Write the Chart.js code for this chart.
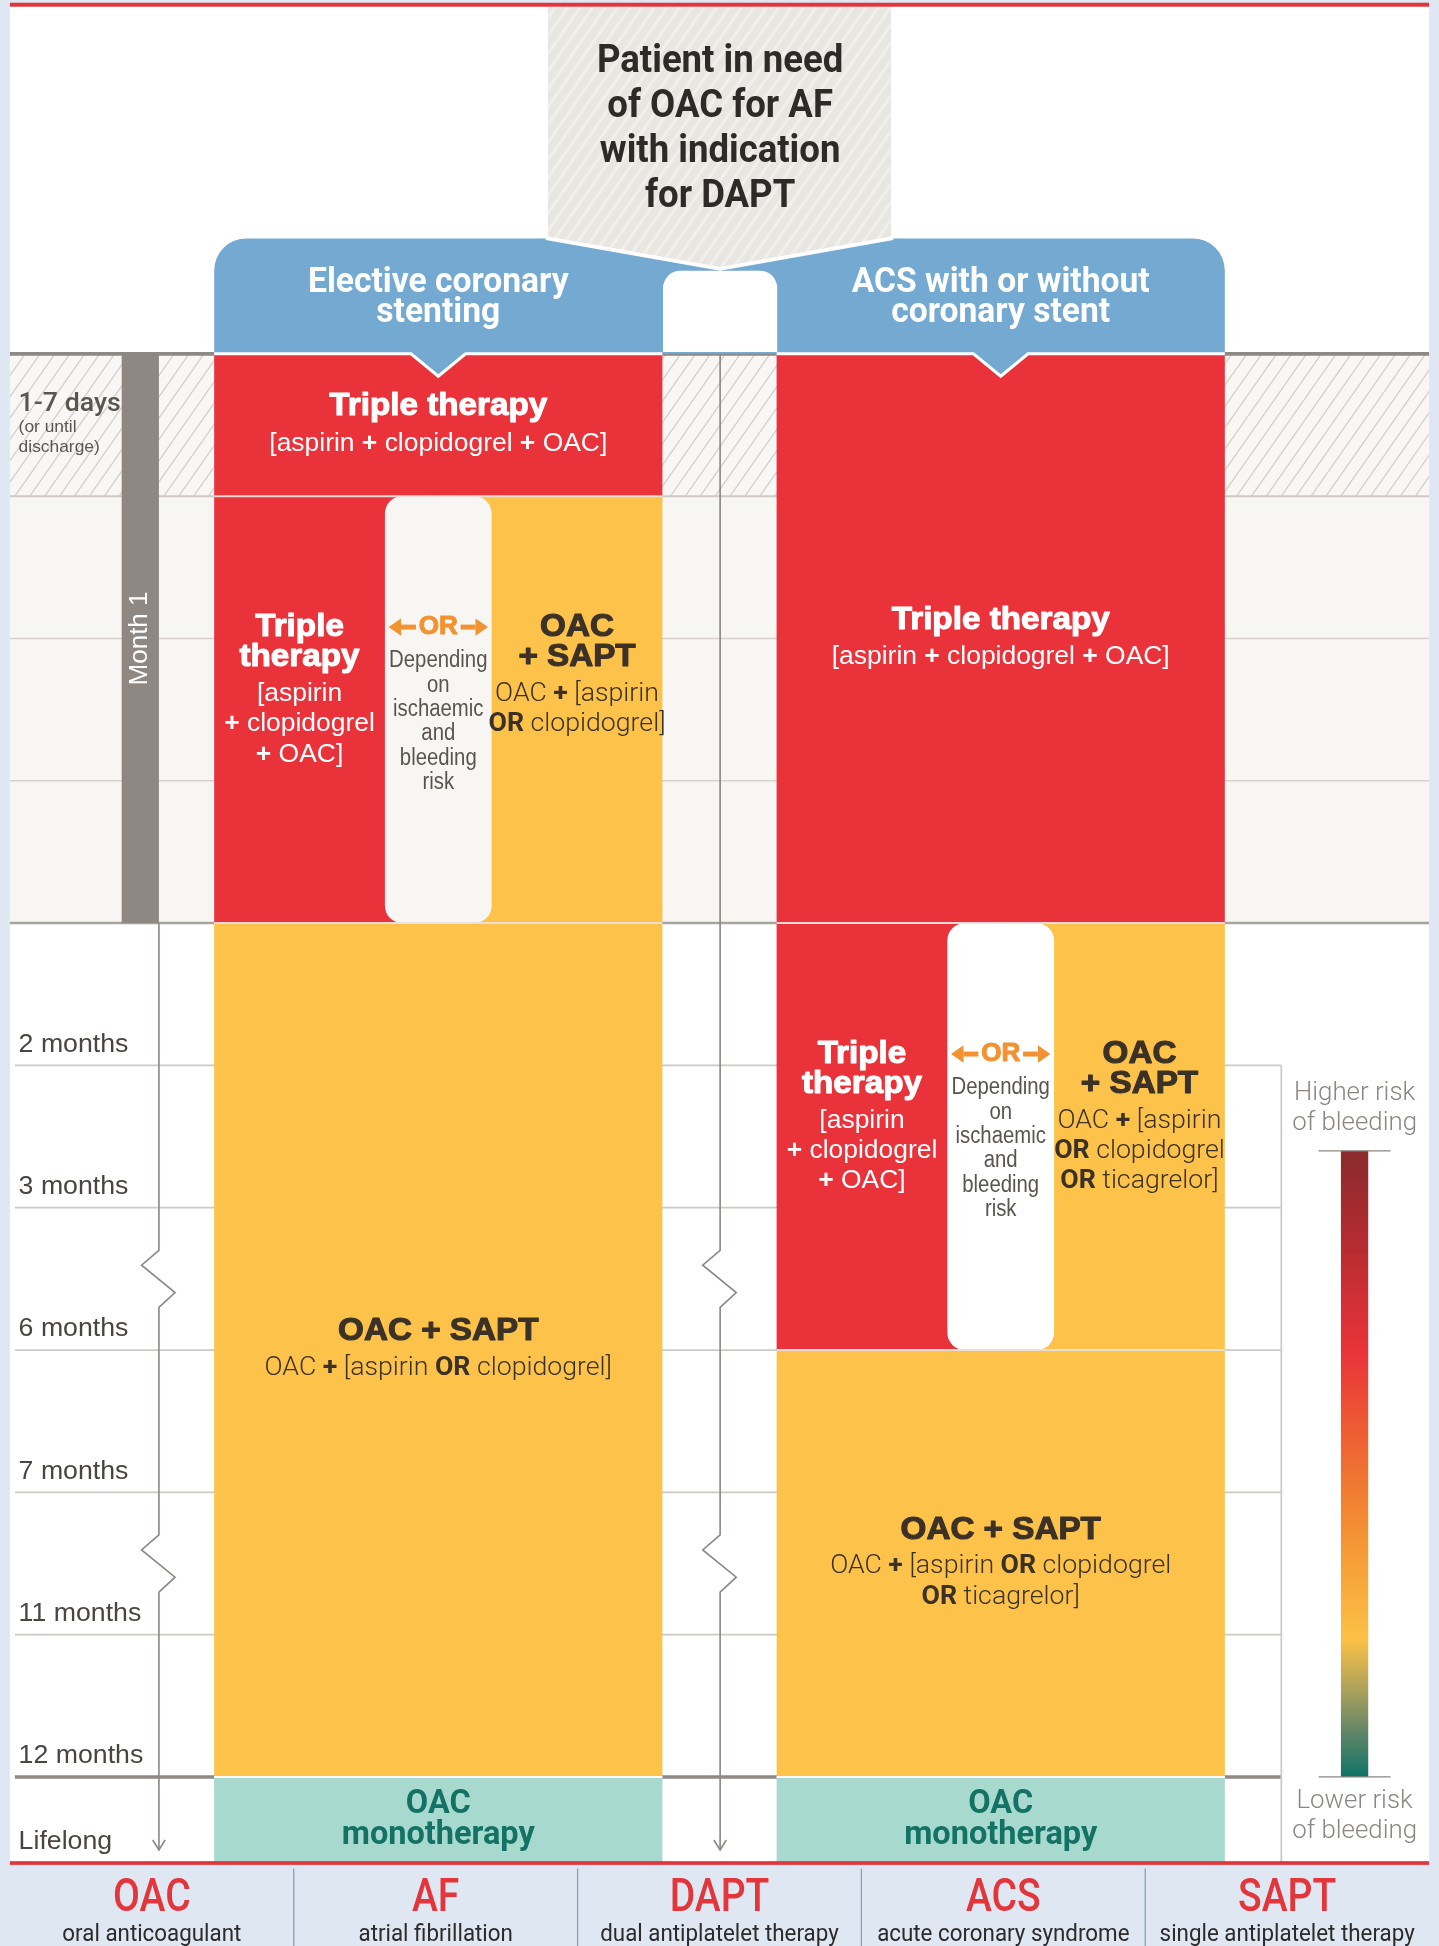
<!DOCTYPE html>
<html>
<head>
<meta charset="utf-8">
<script src="https://cdn.jsdelivr.net/npm/chart.js@4.4.1/dist/chart.umd.min.js"></script>
<style>
  html, body { margin: 0; padding: 0; background: #dfe8f2; }
  #wrap { width: 1439px; height: 1946px; position: relative; }
  canvas { display: block; }
</style>
</head>
<body>
<div id="wrap"><canvas id="flow"></canvas></div>
<script>
// ---- data ----
const columns = ['Elective coronary stenting', 'ACS with or without coronary stent'];
const columnTitles = [['Elective coronary', 'stenting'], ['ACS with or without', 'coronary stent']];
const headerLines = ['Patient in need', 'of OAC for AF', 'with indication', 'for DAPT'];

// time rows: 0 = start, 1 = end of 1-7 days, 4 = end of month 1, 5 = 2 months ... 10 = 12 months
const rowBounds = [0, 1, 2, 3, 4, 5, 6, 7, 8, 9, 10];
const rowEnd = 10.6;
const firstRowLabel = ['1-7 days', '(or until', 'discharge)'];
const timeLabels = ['2 months', '3 months', '6 months', '7 months', '11 months', '12 months', 'Lifelong'];
const timeLabelAt = [5, 6, 7, 8, 9, 10, 10.6];
const monthOneLabel = 'Month 1';
const monthOneSpan = [0, 4];
const scaleBreaks = [6.5, 8.5];

// treatment spans [from, to] per column (elective, ACS)
const tripleFull = [[0, 1], [0, 4]];
const tripleHalf = [[1, 4], [4, 7]];
const saptHalf = [[1, 4], [4, 7]];
const choiceSpan = [[1, 4], [4, 7]];
const saptFull = [[4, 10], [7, 10]];
const monoSpan = [[10, 10.6], [10, 10.6]];

const tripleFullText = [['#Triple therapy', '[aspirin + clopidogrel + OAC]'], ['#Triple therapy', '[aspirin + clopidogrel + OAC]']];
const tripleHalfText = [['#Triple', '#therapy', '[aspirin', '+ clopidogrel', '+ OAC]'], ['#Triple', '#therapy', '[aspirin', '+ clopidogrel', '+ OAC]']];
const saptHalfText = [['#OAC', '#+ SAPT', 'OAC + [aspirin', 'OR clopidogrel]'], ['#OAC', '#+ SAPT', 'OAC + [aspirin', 'OR clopidogrel', 'OR ticagrelor]']];
const choiceText = ['Depending', 'on', 'ischaemic', 'and', 'bleeding', 'risk'];
const saptFullText = [['#OAC + SAPT', 'OAC + [aspirin OR clopidogrel]'], ['#OAC + SAPT', 'OAC + [aspirin OR clopidogrel', 'OR ticagrelor]']];
const monoText = [['OAC', 'monotherapy'], ['OAC', 'monotherapy']];

const riskLabels = [['Higher risk', 'of bleeding'], ['Lower risk', 'of bleeding']];
const riskSpan = [5.6, 10];
const riskColors = ['#8a2b2c', '#b52c31', '#e9333a', '#ee6432', '#f38f33', '#f9b13f', '#fbc146', '#aea25b', '#5f8468', '#0f7466'];
const riskStops = [0, 0.15, 0.32, 0.47, 0.6, 0.72, 0.78, 0.86, 0.93, 1];

const abbreviations = ['OAC', 'AF', 'DAPT', 'ACS', 'SAPT'];
const abbreviationMeanings = ['oral anticoagulant', 'atrial fibrillation', 'dual antiplatelet therapy', 'acute coronary syndrome', 'single antiplatelet therapy'];

// ---- layout (reference units, 1159 wide) ----
const S = 1439 / 1159;
const d = v => v * S;
const L = { panelL: 8, panelR: 1151, top: 5.5, monthL: 98, monthR: 128, axisX: 128, gapX: 580, riskL: 1032,
  riskX: 1091, labelX: 15, gapL: 534, gapR: 626 };

const RED = '#e9323a', YELLOW = '#fcc24a', TEAL = '#a8d9cf', BLUE = '#74aad1';
const DARK = '#3b3126';
const ROBOTO = 'Roboto, "Liberation Sans", sans-serif';
const HELV = '"Liberation Sans", Arial, sans-serif';

function font(w, size, fam) { return `${w} ${size}px ${fam || ROBOTO}`; }

function drawText(ctx, str, x, y, o) {
  ctx.save();
  ctx.font = font(o.w || 400, o.size, o.fam);
  ctx.fillStyle = o.color;
  ctx.textAlign = o.align || 'center';
  ctx.textBaseline = 'middle';
  ctx.translate(x, y);
  if (o.rot) ctx.rotate(o.rot);
  ctx.scale(o.sq || 1, 1);
  if (o.stroke) {
    ctx.strokeStyle = o.color; ctx.lineWidth = o.stroke; ctx.lineJoin = 'round';
    ctx.strokeText(str, 0, 0);
  }
  ctx.fillText(str, 0, 0);
  ctx.restore();
}

// line with bold "+" and "OR"
function drawRich(ctx, str, cx, y, o) {
  const parts = str.split(/(\+|\bOR\b)/).filter(p => p !== '');
  const sq = o.sq || 1;
  ctx.save();
  ctx.textBaseline = 'middle';
  ctx.textAlign = 'left';
  ctx.fillStyle = o.color;
  const fonts = parts.map(p => (p === '+' || p === 'OR') ? font(o.bw, o.size, o.fam) : font(o.w, o.size, o.fam));
  let total = 0;
  const widths = parts.map((p, i) => { ctx.font = fonts[i]; const w = ctx.measureText(p).width; total += w; return w; });
  let x = cx - total * sq / 2;
  parts.forEach((p, i) => {
    ctx.font = fonts[i];
    ctx.save(); ctx.translate(x, y); ctx.scale(sq, 1); ctx.fillText(p, 0, 0); ctx.restore();
    x += widths[i] * sq;
  });
  ctx.restore();
}

function hatch(ctx, x0, y0, x1, y1, bg, line, step, lw) {
  ctx.save();
  ctx.beginPath(); ctx.rect(x0, y0, x1 - x0, y1 - y0); ctx.clip();
  ctx.fillStyle = bg; ctx.fillRect(x0, y0, x1 - x0, y1 - y0);
  ctx.strokeStyle = line; ctx.lineWidth = lw;
  const run = (y1 - y0) * 0.7;
  for (let x = Math.floor((x0 - run) / step) * step; x < x1 + step; x += step) {
    ctx.beginPath(); ctx.moveTo(x, y1); ctx.lineTo(x + run, y0); ctx.stroke();
  }
  ctx.restore();
}

function hline(ctx, y, x0, x1, color, lw) {
  ctx.save(); ctx.strokeStyle = color; ctx.lineWidth = lw;
  ctx.beginPath(); ctx.moveTo(x0, y); ctx.lineTo(x1, y); ctx.stroke(); ctx.restore();
}

function timeline(ctx, x, y0, y1, Y) {
  ctx.save();
  ctx.strokeStyle = '#8c8782'; ctx.lineWidth = d(1.3);
  ctx.beginPath(); ctx.moveTo(x, y0);
  scaleBreaks.forEach(b => {
    const c = Y(b);
    ctx.lineTo(x, c - d(23)); ctx.lineTo(x - d(14), c - d(11)); ctx.lineTo(x + d(13), c + d(11)); ctx.lineTo(x, c + d(23));
  });
  ctx.lineTo(x, y1); ctx.stroke();
  ctx.beginPath(); ctx.moveTo(x - d(5), y1 - d(8)); ctx.lineTo(x, y1); ctx.lineTo(x + d(5), y1 - d(8)); ctx.stroke();
  ctx.restore();
}

// line offsets for a text block, in reference units
function lineOffsets(lines) {
  const off = [0];
  for (let i = 1; i < lines.length; i++) {
    const prevHead = lines[i - 1].startsWith('#'), head = lines[i].startsWith('#');
    off.push(off[i - 1] + (prevHead && !head ? 29.5 : 24.3));
  }
  return off;
}

const styles = {
  red: { head: { w: 700, size: d(25.5), color: '#ffffff', fam: HELV, stroke: d(0.9), sq: 1.05 },
         body: { w: 400, bw: 700, size: d(21.3), color: '#ffffff', fam: HELV } },
  yellow: { head: { w: 700, size: d(25.5), color: DARK, fam: HELV, stroke: d(0.9), sq: 1.05 },
            body: { w: 300, bw: 700, size: d(21.5), color: DARK, fam: ROBOTO } }
};

function drawBlockText(ctx, lines, cx, top, bottom, style, mode, unit) {
  const off = lineOffsets(lines);
  let y0;
  if (mode === 'top') y0 = top + 0.92 * unit;
  else y0 = (top + bottom) / 2 - d(off[off.length - 1]) / 2;
  lines.forEach((ln, i) => {
    const y = y0 + d(off[i]);
    if (ln.startsWith('#')) drawText(ctx, ln.slice(1), cx, y, style.head);
    else drawRich(ctx, ln, cx, y, style.body);
  });
}

function drawArrow(ctx, tipX, y, dir) {
  ctx.save();
  ctx.fillStyle = '#f29231';
  const back = tipX - dir * d(10);
  ctx.beginPath(); ctx.moveTo(tipX, y); ctx.lineTo(back, y - d(7)); ctx.lineTo(back, y + d(7)); ctx.closePath(); ctx.fill();
  ctx.fillRect(Math.min(back, back - dir * d(12)), y - d(2), d(12), d(4));
  ctx.restore();
}

const decor = {
  id: 'decor',
  beforeDatasetsDraw(chart) {
    const { ctx } = chart;
    const ys = chart.scales.y;
    const Y = v => ys.getPixelForValue(v);
    const W = chart.width, Hh = chart.height;
    ctx.save();
    ctx.fillStyle = '#dfe8f2'; ctx.fillRect(0, 0, W, Hh);
    ctx.fillStyle = '#ffffff'; ctx.fillRect(d(L.panelL), d(L.top), d(L.panelR - L.panelL), Y(rowEnd) - d(L.top));
    ctx.fillStyle = '#e3353c'; ctx.fillRect(d(L.panelL), d(2.2), d(L.panelR - L.panelL), d(3.2));
    // month 1 rows and first row
    ctx.fillStyle = '#f7f6f3';
    ctx.fillRect(d(L.panelL), Y(1), d(L.panelR - L.panelL), Y(4) - Y(1));
    hatch(ctx, d(L.panelL), Y(0), d(L.panelR), Y(1), '#f8f7f5', '#d2cec9', d(12), d(1));
    // grid lines
    hline(ctx, Y(1), d(L.panelL), d(L.panelR), '#cfcac6', d(1.6));
    hline(ctx, Y(2), d(L.panelL), d(L.panelR), '#d8d2cf', d(1.2));
    hline(ctx, Y(3), d(L.panelL), d(L.panelR), '#d8d2cf', d(1.2));
    hline(ctx, Y(4), d(L.panelL), d(L.panelR), '#a9a39e', d(2));
    for (let r = 5; r < 10; r++) hline(ctx, Y(r), d(12), d(L.riskL), '#cdc9c5', d(1.4));
    hline(ctx, Y(10), d(12), d(L.riskL), '#8e8984', d(3));
    hline(ctx, Y(0), d(L.panelL), d(L.panelR), '#8e8984', d(3));
    ctx.strokeStyle = '#cdc9c5'; ctx.lineWidth = d(1.4);
    ctx.beginPath(); ctx.moveTo(d(L.riskL), Y(5)); ctx.lineTo(d(L.riskL), Y(rowEnd)); ctx.stroke();
    // month 1 bar
    ctx.fillStyle = '#8e8782';
    ctx.fillRect(d(L.monthL), Y(monthOneSpan[0]), d(L.monthR - L.monthL), Y(monthOneSpan[1]) - Y(monthOneSpan[0]));
    drawText(ctx, monthOneLabel, d((L.monthL + L.monthR) / 2), (Y(monthOneSpan[0]) + Y(monthOneSpan[1])) / 2,
      { w: 400, size: d(21), color: '#ffffff', rot: -Math.PI / 2, fam: HELV });
    // timelines
    timeline(ctx, d(L.axisX), Y(4), Y(rowEnd) - d(10), Y);
    timeline(ctx, d(L.gapX), Y(0), Y(rowEnd) - d(10), Y);
    // time labels
    drawText(ctx, firstRowLabel[0], d(L.labelX), Y(0) + d(41), { w: 500, size: d(21.5), color: '#5b5550', align: 'left' });
    drawText(ctx, firstRowLabel[1], d(L.labelX), Y(0) + d(59), { w: 400, size: d(14), color: '#5b5550', align: 'left', fam: HELV });
    drawText(ctx, firstRowLabel[2], d(L.labelX), Y(0) + d(75), { w: 400, size: d(14), color: '#5b5550', align: 'left', fam: HELV });
    timeLabels.forEach((t, i) => drawText(ctx, t, d(L.labelX), Y(timeLabelAt[i]) - d(17),
      { w: 400, size: d(21.5), color: '#4a4541', align: 'left', fam: HELV }));
    // risk gradient
    const gTop = Y(riskSpan[0]), gBot = Y(riskSpan[1]);
    const grad = ctx.createLinearGradient(0, gTop, 0, gBot);
    riskColors.forEach((c, i) => grad.addColorStop(riskStops[i], c));
    ctx.fillStyle = grad;
    ctx.fillRect(d(L.riskX - 11), gTop, d(22), gBot - gTop);
    hline(ctx, gTop, d(L.riskX - 29), d(L.riskX + 29), '#8b8682', d(1));
    hline(ctx, gBot, d(L.riskX - 29), d(L.riskX + 29), '#8b8682', d(1));
    const rs = { w: 300, size: d(20.8), color: '#8b8682' };
    drawText(ctx, riskLabels[0][0], d(L.riskX), gTop - d(46), rs);
    drawText(ctx, riskLabels[0][1], d(L.riskX), gTop - d(22), rs);
    drawText(ctx, riskLabels[1][0], d(L.riskX), gBot + d(20), rs);
    drawText(ctx, riskLabels[1][1], d(L.riskX), gBot + d(44), rs);
    ctx.restore();
  },
  afterDatasetsDraw(chart) {
    const { ctx } = chart;
    const ys = chart.scales.y;
    const Y = v => ys.getPixelForValue(v);
    const unit = Math.abs(Y(1) - Y(0));
    const sets = chart.data.datasets;
    const metas = sets.map((_, i) => chart.getDatasetMeta(i));
    const choiceMeta = metas[sets.findIndex(ds => ds.kind === 'choice')];
    // block boundaries
    sets.forEach((ds, i) => {
      if (ds.kind === 'choice') return;
      metas[i].data.forEach((el, j) => {
        const start = ds.data[j].y[0];
        if (start <= 0) return;
        hline(ctx, Y(start), el.x - el.width / 2, el.x + el.width / 2, ds.kind === 'mono' ? '#ffffff' : 'rgba(232,224,222,0.95)', d(1.6));
      });
    });
    // block texts
    sets.forEach((ds, i) => {
      metas[i].data.forEach((el, j) => {
        const top = Math.min(el.y, el.base), bottom = Math.max(el.y, el.base);
        if (ds.kind === 'choice') {
          const y0 = top + 0.92 * unit;
          drawText(ctx, 'OR', el.x, y0, { w: 700, size: d(21), color: '#f29231', fam: HELV, stroke: d(0.8) });
          drawArrow(ctx, el.x - d(40), y0, -1);
          drawArrow(ctx, el.x + d(40), y0, 1);
          choiceText.forEach((t, k) => drawText(ctx, t, el.x, y0 + d(27 + 19.6 * k),
            { w: 400, size: d(19.5), color: '#5a544f', sq: 0.84, fam: HELV }));
        } else if (ds.kind === 'mono') {
          monoText[j].forEach((t, k) => drawText(ctx, t, el.x, (top + bottom) / 2 + d(-12.5 + 25 * k),
            { w: 700, size: d(27), color: '#137264', sq: 0.97 }));
        } else {
          let cx = el.x;
          if (ds.half) {
            const ch = choiceMeta.data[j];
            cx = el.x < ch.x ? (el.x - el.width / 2 + ch.x - ch.width / 2) / 2 : (ch.x + ch.width / 2 + el.x + el.width / 2) / 2;
          }
          drawBlockText(ctx, ds.texts[j], cx, top, bottom, styles[ds.kind], ds.half ? 'top' : 'center', unit);
        }
      });
    });
    // header: blue column heads
    const full = metas[sets.findIndex(ds => ds.kind === 'red' && !ds.half)];
    const cols = full.data.map(el => [el.x - el.width / 2, el.x + el.width / 2, el.x]);
    const yb = Y(0), r = d(26), blueTop = d(192);
    ctx.save();
    ctx.fillStyle = BLUE;
    ctx.beginPath();
    ctx.moveTo(cols[0][0], yb); ctx.lineTo(cols[0][0], blueTop + r);
    ctx.arcTo(cols[0][0], blueTop, cols[0][0] + r, blueTop, r);
    ctx.lineTo(cols[1][1] - r, blueTop);
    ctx.arcTo(cols[1][1], blueTop, cols[1][1], blueTop + r, r);
    ctx.lineTo(cols[1][1], yb); ctx.closePath(); ctx.fill();
    // pointers
    cols.forEach(c => {
      ctx.beginPath(); ctx.moveTo(c[2] - d(22), yb - 1); ctx.lineTo(c[2], yb + d(18)); ctx.lineTo(c[2] + d(22), yb - 1); ctx.closePath(); ctx.fill();
    });
    ctx.strokeStyle = '#ffffff'; ctx.lineWidth = d(2.4); ctx.lineJoin = 'miter';
    cols.forEach(c => {
      ctx.beginPath(); ctx.moveTo(c[0], yb); ctx.lineTo(c[2] - d(22), yb); ctx.lineTo(c[2], yb + d(18)); ctx.lineTo(c[2] + d(22), yb); ctx.lineTo(c[1], yb); ctx.stroke();
    });
    // white tab between the heads
    ctx.fillStyle = '#ffffff';
    ctx.beginPath(); ctx.roundRect(d(L.gapL), d(218), d(L.gapR - L.gapL), yb - d(218) - d(1.5), [d(14), d(14), 0, 0]); ctx.fill();
    // grey question box
    const bx0 = d(441), bx1 = d(718), bBot = d(192), tip = d(216.5);
    ctx.save();
    ctx.beginPath(); ctx.moveTo(bx0, d(L.top)); ctx.lineTo(bx1, d(L.top)); ctx.lineTo(bx1, bBot); ctx.lineTo(d(L.gapX), tip); ctx.lineTo(bx0, bBot); ctx.closePath();
    ctx.clip();
    hatch(ctx, bx0, d(L.top), bx1, tip, '#e8e6e1', '#f1efec', d(10), d(2.5));
    ctx.restore();
    ctx.strokeStyle = '#ffffff'; ctx.lineWidth = d(3);
    ctx.beginPath(); ctx.moveTo(bx0, bBot - d(2)); ctx.lineTo(bx0, bBot); ctx.lineTo(d(L.gapX), tip); ctx.lineTo(bx1, bBot); ctx.lineTo(bx1, bBot - d(2)); ctx.stroke();
    headerLines.forEach((t, i) => drawText(ctx, t, d(L.gapX), d(50 + 36.4 * i), { w: 700, size: d(31), color: '#2e2a27', sq: 0.95 }));
    columnTitles.forEach((lines, i) => lines.forEach((t, k) => drawText(ctx, t, cols[i][2], d(228 + 24 * k),
      { w: 700, size: d(28.5), color: '#ffffff', sq: 0.95 })));
    ctx.restore();
    // abbreviations legend
    const lb = Y(rowEnd);
    ctx.save();
    ctx.fillStyle = '#e3353c'; ctx.fillRect(d(L.panelL), lb - d(1), d(L.panelR - L.panelL), d(3));
    const cw = (L.panelR - L.panelL) / abbreviations.length;
    ctx.strokeStyle = '#7f9ec0'; ctx.lineWidth = d(1);
    for (let i = 1; i < abbreviations.length; i++) {
      const x = d(L.panelL + cw * i);
      ctx.beginPath(); ctx.moveTo(x, lb + d(5)); ctx.lineTo(x, chart.height); ctx.stroke();
    }
    abbreviations.forEach((a, i) => {
      const cx = d(L.panelL + cw * (i + 0.5));
      drawText(ctx, a, cx, lb + d(30), { w: 500, size: d(37), color: '#e3353c', sq: 0.85 });
      drawText(ctx, abbreviationMeanings[i], cx, lb + d(58), { w: 400, size: d(20), color: '#2b2b2b', sq: 0.9 });
    });
    ctx.restore();
  }
};

const pts = spans => spans.map((s, i) => ({ x: columns[i], y: s }));
const FULL = d(361), HALF = d(180.5), CHOICE = d(86);

new Chart(document.getElementById('flow').getContext('2d'), {
  type: 'bar',
  data: {
    labels: columns,
    datasets: [
      { label: 'Depending on ischaemic and bleeding risk', kind: 'choice', data: pts(choiceSpan),
        backgroundColor: c => c.dataIndex === 0 ? '#f7f6f3' : '#ffffff', grouped: false, barThickness: CHOICE,
        borderRadius: d(14), borderSkipped: false, inflateAmount: 0, order: 0 },
      { label: 'Triple therapy', kind: 'red', half: true, texts: tripleHalfText, data: pts(tripleHalf),
        backgroundColor: RED, grouped: true, barThickness: HALF, inflateAmount: 0, order: 1 },
      { label: 'OAC + SAPT', kind: 'yellow', half: true, texts: saptHalfText, data: pts(saptHalf),
        backgroundColor: YELLOW, grouped: true, barThickness: HALF, inflateAmount: 0, order: 2 },
      { label: 'Triple therapy', kind: 'red', texts: tripleFullText, data: pts(tripleFull),
        backgroundColor: RED, grouped: false, barThickness: FULL, inflateAmount: 0, order: 3 },
      { label: 'OAC + SAPT', kind: 'yellow', texts: saptFullText, data: pts(saptFull),
        backgroundColor: YELLOW, grouped: false, barThickness: FULL, inflateAmount: 0, order: 4 },
      { label: 'OAC monotherapy', kind: 'mono', data: pts(monoSpan),
        backgroundColor: TEAL, grouped: false, barThickness: FULL, inflateAmount: 0, order: 5 }
    ]
  },
  options: {
    responsive: true,
    maintainAspectRatio: false,
    animation: false,
    events: [],
    layout: { padding: { left: d(126.5), right: 1439 - d(1032.5), top: d(285), bottom: 1946 - d(1500) } },
    scales: {
      x: { type: 'category', display: false, offset: true },
      y: { type: 'linear', display: false, reverse: true, min: rowBounds[0], max: rowEnd }
    },
    plugins: { legend: { display: false }, tooltip: { enabled: false } }
  },
  plugins: [decor]
});
</script>
</body>
</html>
